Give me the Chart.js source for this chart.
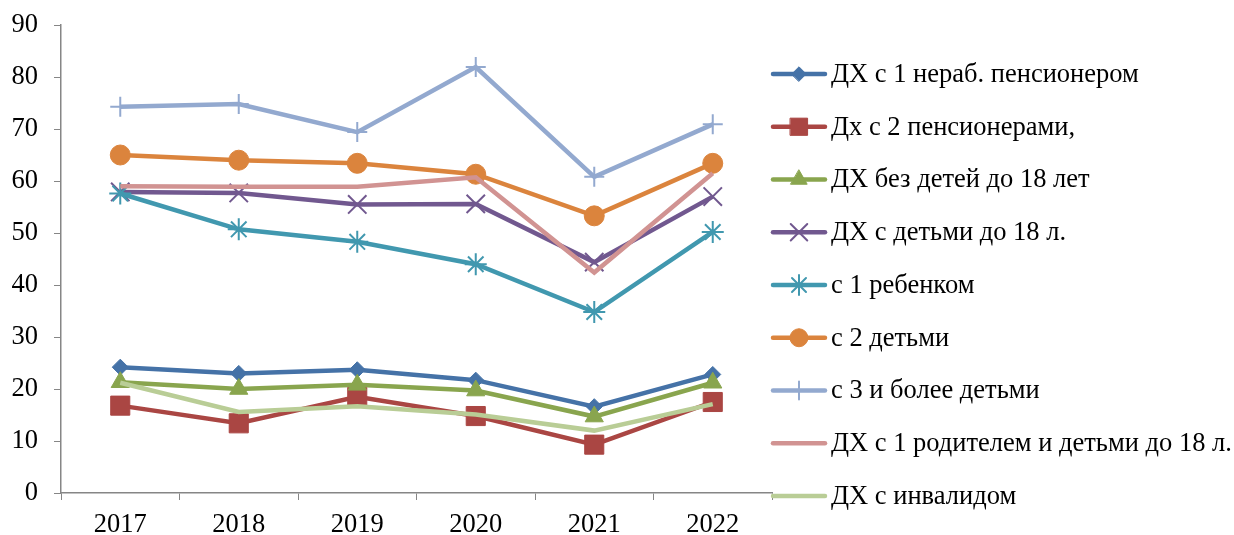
<!DOCTYPE html>
<html>
<head>
<meta charset="utf-8">
<script src="https://cdn.jsdelivr.net/npm/chart.js@4.4.1/dist/chart.umd.min.js"></script>
<style>
  html, body { margin: 0; padding: 0; background: #fff; }
  #wrap { width: 1234px; height: 535px; }
</style>
</head>
<body>
<div id="wrap"><canvas id="chart"></canvas></div>
<script>
// данные
const years = ['2017', '2018', '2019', '2020', '2021', '2022'];
const yTicks = [0, 10, 20, 30, 40, 50, 60, 70, 80, 90];

const pens1 = [24.2, 23.0, 23.7, 21.7, 16.6, 22.8];
const pens2 = [16.8, 13.4, 18.5, 14.8, 9.3, 17.5];
const noKids = [21.3, 20.0, 20.8, 19.7, 14.7, 21.2];
const withKids = [57.9, 57.7, 55.5, 55.6, 44.4, 57.0];
const kid1 = [57.6, 50.7, 48.3, 44.0, 34.8, 50.2];
const kids2 = [65.0, 64.0, 63.4, 61.3, 53.3, 63.4];
const kids3 = [74.3, 74.8, 69.4, 81.9, 60.8, 70.9];
const singleParent = [59.0, 58.9, 58.9, 60.7, 42.4, 61.5];
const disabled = [21.2, 15.6, 16.7, 15.1, 12.0, 17.1];

const FONT = '"Liberation Serif", "Times New Roman", serif';
const FSIZE = 26.5;

function series(label, data, color, style, radius, bw) {
    return {
        label: label,
        data: data,
        borderColor: color,
        backgroundColor: color,
        borderWidth: 4.5,
        pointStyle: style,
        pointRadius: radius,
        pointHoverRadius: radius,
        pointBackgroundColor: color,
        pointBorderColor: color,
        pointBorderWidth: bw,
        fill: false,
        tension: 0
    };
}

const datasets = [
    series('ДХ с 1 нераб. пенсионером', pens1, '#4572A7', 'rectRot', 8, 1),
    series('Дх с 2 пенсионерами,', pens2, '#AA4643', 'rect', 13.5, 1),
    series('ДХ без детей до 18 лет', noKids, '#89A54E', 'triangle', 10.5, 1),
    series('ДХ с детьми до 18 л.', withKids, '#71588F', 'crossRot', 13, 2),
    series('с 1 ребенком', kid1, '#4198AF', 'star', 11, 2),
    series('с 2 детьми', kids2, '#DB843D', 'circle', 10, 1),
    series('с 3 и более детьми', kids3, '#93A9CF', 'cross', 10, 2),
    series('ДХ с 1 родителем и детьми до 18 л.', singleParent, '#D19392', 'circle', 0, 0),
    series('ДХ с инвалидом', disabled, '#B9CD96', 'circle', 0, 0)
];
// поздние серии рисуются поверх, как в Excel
datasets.forEach((ds, i) => { ds.order = datasets.length - i; });

// легенда справа: линия + маркер + подпись
const sideLegend = {
    id: 'sideLegend',
    afterDraw(chart) {
        const ctx = chart.ctx;
        chart.data.datasets.forEach((ds, i) => {
            const y = 74 + i * 52.75;
            ctx.save();
            ctx.strokeStyle = ds.borderColor;
            ctx.fillStyle = ds.borderColor;
            ctx.lineWidth = ds.borderWidth;
            ctx.lineCap = 'round';
            ctx.beginPath();
            ctx.moveTo(773, y);
            ctx.lineTo(825, y);
            ctx.stroke();
            if (ds.pointRadius > 0) {
                ctx.lineWidth = ds.pointBorderWidth;
                Chart.helpers.drawPoint(ctx, {
                    pointStyle: ds.pointStyle,
                    radius: ds.pointRadius * 0.9,
                    borderWidth: ds.pointBorderWidth,
                    rotation: 0
                }, 799, y);
            }
            ctx.fillStyle = '#000';
            ctx.font = FSIZE + 'px ' + FONT;
            ctx.textBaseline = 'middle';
            ctx.textAlign = 'left';
            ctx.fillText(ds.label, 831, y + 1);
            ctx.restore();
        });
    }
};

new Chart(document.getElementById('chart'), {
    type: 'line',
    data: { labels: years, datasets: datasets },
    options: {
        responsive: true,
        maintainAspectRatio: false,
        animation: false,
        layout: { padding: { left: 0, right: 462, top: 25, bottom: 0 } },
        plugins: {
            legend: { display: false },
            tooltip: { enabled: false }
        },
        scales: {
            x: {
                offset: true,
                afterFit: (scale) => { scale.height = 42; },
                grid: {
                    offset: true,
                    drawOnChartArea: false,
                    tickLength: 7,
                    color: '#868686'
                },
                border: { color: '#868686', width: 1.5 },
                ticks: {
                    color: '#000',
                    padding: 9,
                    font: { family: FONT, size: FSIZE }
                }
            },
            y: {
                min: yTicks[0],
                max: yTicks[yTicks.length - 1],
                afterFit: (scale) => { scale.width = 61; },
                grid: {
                    drawOnChartArea: false,
                    tickLength: 7,
                    color: '#868686'
                },
                border: { color: '#868686', width: 1.5 },
                ticks: {
                    stepSize: yTicks[1] - yTicks[0],
                    color: '#000',
                    padding: 16,
                    font: { family: FONT, size: FSIZE, lineHeight: 0.5 }
                }
            }
        }
    },
    plugins: [sideLegend]
});
</script>
</body>
</html>
